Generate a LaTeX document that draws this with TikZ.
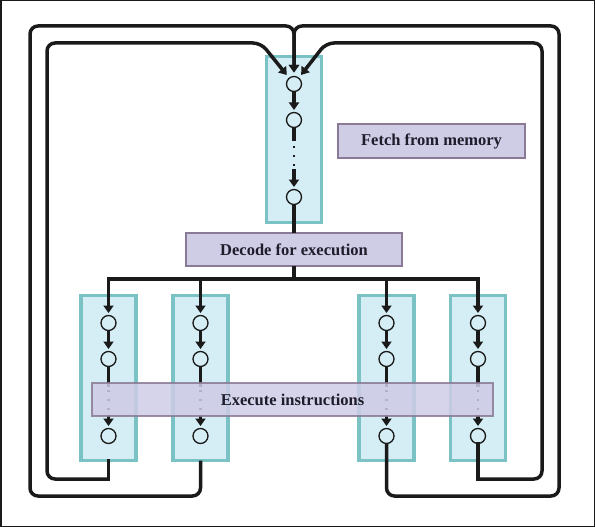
\documentclass[tikz,border=0pt]{standalone}
\usepackage{fontspec}
\setmainfont{Liberation Serif}
\usetikzlibrary{arrows.meta}
\definecolor{tealb}{HTML}{7BC2C5}
\definecolor{tealf}{HTML}{D5EDF4}
\definecolor{purf}{HTML}{CFCCE6}
\definecolor{purb}{HTML}{8A7A95}
\definecolor{ink}{HTML}{1A1A1A}
\definecolor{txt}{HTML}{1F1D2B}
\tikzset{
  colbox/.style={draw=tealb, fill=tealf, line width=3.5pt, inner sep=0pt, outer sep=0pt, minimum width=55pt, minimum height=165pt},
  stage/.style={draw=purb, fill=purf, line width=1.8pt, inner sep=0pt, outer sep=0pt, font=\fontsize{16.5}{18}\selectfont\bfseries, text=txt},
  dot/.style={circle, draw=ink, line width=1.3pt, minimum size=15pt, inner sep=0pt, outer sep=0pt},
  wire/.style={draw=ink, line width=3.5pt},
  tip/.style={-{Triangle[width=10pt,length=7.5pt]}, shorten >=2.5pt},
  arrowwire/.style={wire, tip},
  dotwire/.style={draw=ink, line width=2.2pt, dash pattern=on 2.2pt off 6.8pt},
  loopwire/.style={wire, rounded corners=8pt, -{Triangle[width=10pt,length=7.5pt]}, shorten >=4pt},
}
\begin{document}
\begin{tikzpicture}[x=1pt,y=-1pt]
\useasboundingbox (0,0) rectangle (595,527);
\draw[line width=1.5pt, ink] (0.75,0.75) rectangle (594.25,526.25);

% columns
\node[colbox, minimum height=166pt] (fc) at (294,139.5) {};
\node[colbox] (r1) at (108.5,378) {};
\node[colbox] (r2) at (200.5,378) {};
\node[colbox] (r3) at (386.5,378) {};
\node[colbox] (r4) at (478,378) {};

% circles
\node[dot] (f1) at (294,84) {};
\node[dot] (f2) at (294,120) {};
\node[dot] (f3) at (294,197) {};
\foreach \i/\x in {1/108.5, 2/200.5, 3/386.5, 4/478}{
  \node[dot] (c\i1) at (\x,323) {};
  \node[dot] (c\i2) at (\x,359) {};
  \node[dot] (c\i3) at (\x,436) {};
}

% fetch column wires
\draw[arrowwire] (f1) -- (f2);
\coordinate (fa) at (294,141);
\coordinate (fb) at (294,146);
\coordinate (fcd) at (294,166);
\coordinate (fd) at (294,169);
\draw[wire] (f2) -- (fa);
\draw[dotwire] (fb) -- (fcd);
\draw[arrowwire] (fd) -- (f3);

% bottom column wires
\foreach \i/\x in {1/108.5, 2/200.5, 3/386.5, 4/478}{
  \draw[arrowwire] (c\i1) -- (c\i2);
  \coordinate (s\i) at (\x,387);
  \coordinate (d\i) at (\x,390);
  \coordinate (e\i) at (\x,412);
  \coordinate (g\i) at (\x,415);
  \draw[wire] (c\i2) -- (s\i);
  \draw[dotwire] (d\i) -- (e\i);
  \draw[arrowwire] (g\i) -- (c\i3);
}

% stage boxes
\node[stage, minimum width=216.5pt, minimum height=33.5pt] (dec) at (294,249.5) {Decode for execution};
\node[stage, minimum width=187.5pt, minimum height=34.5pt] (fet) at (431.5,141) {Fetch from memory};

\draw[wire] (f3) -- (dec);

% distribution bar
\coordinate (b1) at (108.5,279);
\coordinate (b2) at (200.5,279);
\coordinate (b3) at (386.5,279);
\coordinate (b4) at (478,279);
\draw[wire] (dec.south) -- (dec.south |- b1);
\draw[wire, {Triangle[width=10pt,length=7.5pt]}-{Triangle[width=10pt,length=7.5pt]}, shorten >=2.5pt, shorten <=2.5pt] (c11) -- (b1) -- (b4) -- (c41);
\draw[arrowwire] (b2) -- (c21);
\draw[arrowwire] (b3) -- (c31);

% feedback loops
\coordinate (k1) at (108.5,479);
\coordinate (k4) at (478,479);
\draw[wire, line cap=rect] (r1.south) -- (k1);
\draw[loopwire] (k1) -- (47,479) -- (47,43) -- (261,43) -- (f1);
\draw[loopwire] (r2.south) -- (200.5,496) -- (30,496) -- (30,26) -- (294,26) -- (f1);
\draw[loopwire] (c33) -- (386.5,496) -- (559,496) -- (559,26) -- (294,26) -- (f1);
\draw[wire, line cap=rect] (c43) -- (k4);
\draw[loopwire] (k4) -- (542,479) -- (542,43) -- (326,43) -- (f1);

% execute box (translucent)
\node[stage, fill opacity=0.85, draw opacity=0.85, text opacity=1, minimum width=401.5pt, minimum height=33.5pt] (exe) at (292.5,399.5) {Execute instructions};
\end{tikzpicture}
\end{document}
